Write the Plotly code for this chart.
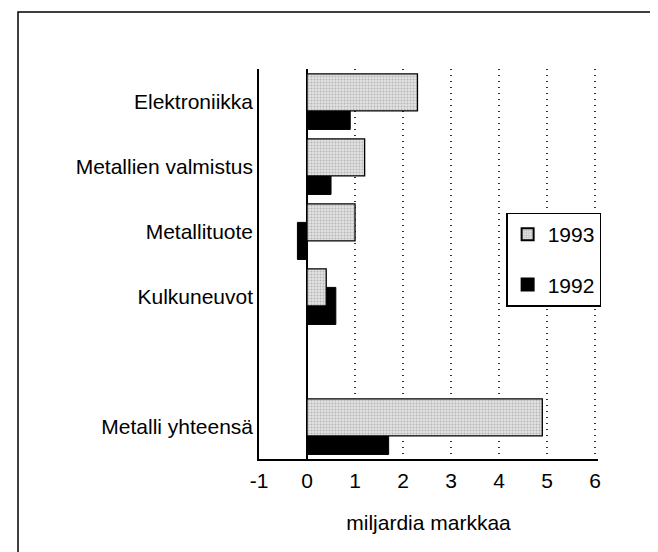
import plotly.graph_objects as go

categories = ["Elektroniikka", "Metallien valmistus", "Metallituote", "Kulkuneuvot", "", "Metalli yhteensä"]
values_1993 = [2.3, 1.2, 1.0, 0.4, None, 4.9]
values_1992 = [0.9, 0.5, -0.2, 0.6, None, 1.7]
x_ticks = [-1, 0, 1, 2, 3, 4, 5, 6]

positions = list(range(len(categories)))
FONT = "Liberation Sans, Arial, Helvetica, sans-serif"

fig = go.Figure()
fig.add_trace(go.Bar(
    y=positions, x=values_1992, orientation="h", name="1992",
    width=0.57, offset=-0.14, legendrank=2, legendgroup="b",
    marker=dict(color="black", line=dict(color="black", width=1)),
))
fig.add_trace(go.Bar(
    y=positions, x=values_1993, orientation="h", name="1993",
    width=0.57, offset=-0.425, legendrank=1, legendgroup="a",
    marker=dict(color="#d8d8d8", line=dict(color="black", width=1.3),
                pattern=dict(shape=".", fgcolor="#8a8a8a", bgcolor="#e2e2e2", size=3, solidity=0.35)),
))

fig.update_layout(
    width=658, height=552, autosize=False,
    margin=dict(l=251, r=68, t=61, b=101),
    paper_bgcolor="white", plot_bgcolor="white",
    barmode="overlay",
    font=dict(family=FONT, size=21, color="black"),
    showlegend=True,
    legend=dict(x=0.729, y=0.632, xanchor="left", yanchor="top",
                bordercolor="black", borderwidth=1.5, bgcolor="white",
                font=dict(size=21), tracegroupgap=20, itemsizing="constant"),
    xaxis=dict(range=[-1, 6.06], tickvals=x_ticks, ticktext=[str(v) for v in x_ticks],
               showgrid=True, gridcolor="#333333", griddash="1px,5px", gridwidth=1.5,
               zeroline=True, zerolinecolor="black", zerolinewidth=1.5,
               showline=True, linecolor="black", linewidth=1.5,
               ticks="", ticklabelstandoff=2,
               title=dict(text="miljardia markkaa", standoff=24, font=dict(size=21))),
    yaxis=dict(range=[5.5, -0.5], tickvals=positions, ticktext=categories,
               showgrid=False, zeroline=False,
               showline=True, linecolor="black", linewidth=1.5, ticks=""),
    shapes=[dict(type="rect", xref="paper", yref="paper",
                 x0=-0.7109, x1=1.1711, y0=-0.28, y1=1.146,
                 line=dict(color="black", width=1.5), fillcolor="rgba(0,0,0,0)", layer="below")],
)

fig.write_html("out.html")
